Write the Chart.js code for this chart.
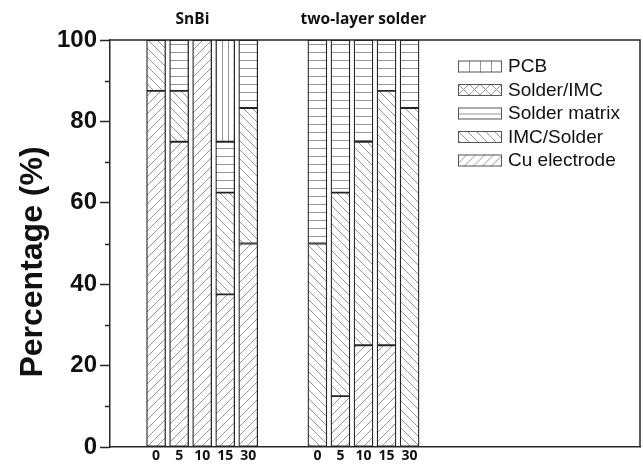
<!DOCTYPE html>
<html>
<head>
<meta charset="utf-8">
<script src="https://cdn.jsdelivr.net/npm/chart.js@4/dist/chart.umd.min.js"></script>
<style>
  body { margin: 0; background: #fff; }
</style>
</head>
<body>
<canvas id="chart" width="643" height="466"></canvas>
<script>
// ── data ────────────────────────────────────────────────────────────────────
// SnBi bars sit at slots 2-6, two-layer solder at 9-13, the rest is empty room
const categories = ['', '', '0', '5', '10', '15', '30', '', '', '0', '5', '10', '15', '30',
                    '', '', '', '', '', '', '', '', '', ''];
const cuElectrode  = [null, null, 87.5, 75,   100, 37.5, 50,   null, null, 0,  12.5, 25, 25,   0];
const imcSolder    = [null, null, 12.5, 12.5, 0,   25,   33.3, null, null, 50, 50,   50, 62.5, 83.3];
const solderMatrix = [null, null, 0,    12.5, 0,   12.5, 16.7, null, null, 50, 37.5, 25, 12.5, 16.7];
const solderImc    = [null, null, 0,    0,    0,   0,    0,    null, null, 0,  0,    0,  0,    0];
const pcb          = [null, null, 0,    0,    0,   25,   0,    null, null, 0,  0,    0,  0,    0];
const groupTitles  = ['SnBi', 'two-layer solder'];
const minorTicks   = [10, 30, 50, 70, 90];

const INK = '#262626';
const HATCH = '#8a8a8a';

// small repeating tiles for the hatch fills
function hatch(kind, size) {
    const c = document.createElement('canvas');
    c.width = size; c.height = size;
    const g = c.getContext('2d');
    g.fillStyle = '#fff';
    g.fillRect(0, 0, size, size);
    g.strokeStyle = HATCH;
    g.lineWidth = 0.9;
    g.beginPath();
    if (kind === 'vertical') {
        g.moveTo(0.5, 0); g.lineTo(0.5, size);
    } else if (kind === 'horizontal') {
        g.moveTo(0, Math.floor(size / 2) + 0.5); g.lineTo(size, Math.floor(size / 2) + 0.5);
    } else {
        for (const dx of [-size, 0, size]) {
            if (kind === 'forward' || kind === 'cross') { g.moveTo(dx, size); g.lineTo(dx + size, 0); }
            if (kind === 'back' || kind === 'cross')    { g.moveTo(dx, 0); g.lineTo(dx + size, size); }
        }
    }
    g.stroke();
    return g.createPattern(c, 'repeat');
}

function series(label, data, kind, size, legendKind, legendSize) {
    return {
        label,
        data,
        backgroundColor: hatch(kind, size),
        legendFill: hatch(legendKind, legendSize),
        borderColor: INK,
        borderWidth: 1.3,
        borderSkipped: false,
        barThickness: 19
    };
}

// bottom of the stack first
const datasets = [
    series('Cu electrode', cuElectrode, 'forward', 9, 'forward', 9),
    series('IMC/Solder', imcSolder, 'back', 9, 'back', 9),
    series('Solder matrix', solderMatrix, 'horizontal', 8, 'horizontal', 12),
    series('Solder/IMC', solderImc, 'cross', 9, 'cross', 11),
    series('PCB', pcb, 'vertical', 6, 'vertical', 11)
];

// frame, minor ticks, group titles, y title and the boxed legend
const decorations = {
    id: 'decorations',
    afterDraw(chart) {
        const { ctx, chartArea: a, scales: { x, y } } = chart;
        ctx.save();

        ctx.strokeStyle = INK;
        ctx.lineWidth = 1.5;
        ctx.beginPath();
        ctx.moveTo(a.left, a.top); ctx.lineTo(a.right, a.top); ctx.lineTo(a.right, a.bottom);
        minorTicks.forEach(v => {
            const py = Math.round(y.getPixelForValue(v)) + 0.5;
            ctx.moveTo(a.left - 5, py); ctx.lineTo(a.left, py);
        });
        ctx.stroke();

        const step = x.getPixelForValue(1) - x.getPixelForValue(0);
        ctx.fillStyle = '#111';
        ctx.font = 'bold 15.5px "Open Sans", sans-serif';
        ctx.textAlign = 'center';
        ctx.textBaseline = 'alphabetic';
        ctx.fillText(groupTitles[0], x.getPixelForValue(3) + 0.58 * step, a.top - 16);
        ctx.fillText(groupTitles[1], x.getPixelForValue(11), a.top - 16);

        ctx.save();
        ctx.translate(42, 262);
        ctx.rotate(-Math.PI / 2);
        ctx.font = 'bold 32px "Liberation Sans", Arial, sans-serif';
        ctx.fillText('Percentage (%)', 0, 0);
        ctx.restore();

        ctx.font = '19px "Liberation Sans", Arial, sans-serif';
        ctx.textAlign = 'left';
        ctx.textBaseline = 'middle';
        chart.data.datasets.slice().reverse().forEach((ds, i) => {
            const bx = a.right - 182, by = a.top + 20.5 + i * 23.5;
            ctx.save();
            ctx.translate(bx, by);
            ctx.fillStyle = ds.legendFill;
            ctx.fillRect(0, 0, 44, 12);
            ctx.strokeStyle = '#555';
            ctx.lineWidth = 1;
            ctx.strokeRect(0.5, 0.5, 43, 11);
            ctx.restore();
            ctx.fillStyle = '#111';
            ctx.fillText(ds.label, bx + 50, by + 6.5);
        });

        ctx.restore();
    }
};

new Chart(document.getElementById('chart').getContext('2d'), {
    type: 'bar',
    data: { labels: categories, datasets },
    plugins: [decorations],
    options: {
        responsive: false,
        animation: false,
        layout: { padding: { top: 40, right: 3, left: 0, bottom: 0 } },
        plugins: { legend: { display: false }, tooltip: { enabled: false } },
        scales: {
            x: {
                stacked: true,
                offset: false,
                grid: { display: false, drawTicks: false, offset: false },
                border: { display: true, color: INK, width: 1.5 },
                ticks: {
                    autoSkip: false, maxRotation: 0, padding: 1, color: '#111',
                    font: { family: '"Open Sans", sans-serif', weight: 'bold', size: 14 }
                },
                afterFit: s => { s.height = 19; }
            },
            y: {
                stacked: true,
                min: 0,
                max: 100,
                grid: { drawOnChartArea: false, tickLength: 10, tickColor: INK, tickWidth: 1.5 },
                border: { display: true, color: INK, width: 1.5 },
                ticks: {
                    stepSize: 20, padding: 3, color: '#111',
                    font: { family: '"Liberation Sans", Arial, sans-serif', weight: 'bold', size: 24 }
                },
                afterFit: s => { s.width = 110; }
            }
        }
    }
});
</script>
</body>
</html>
